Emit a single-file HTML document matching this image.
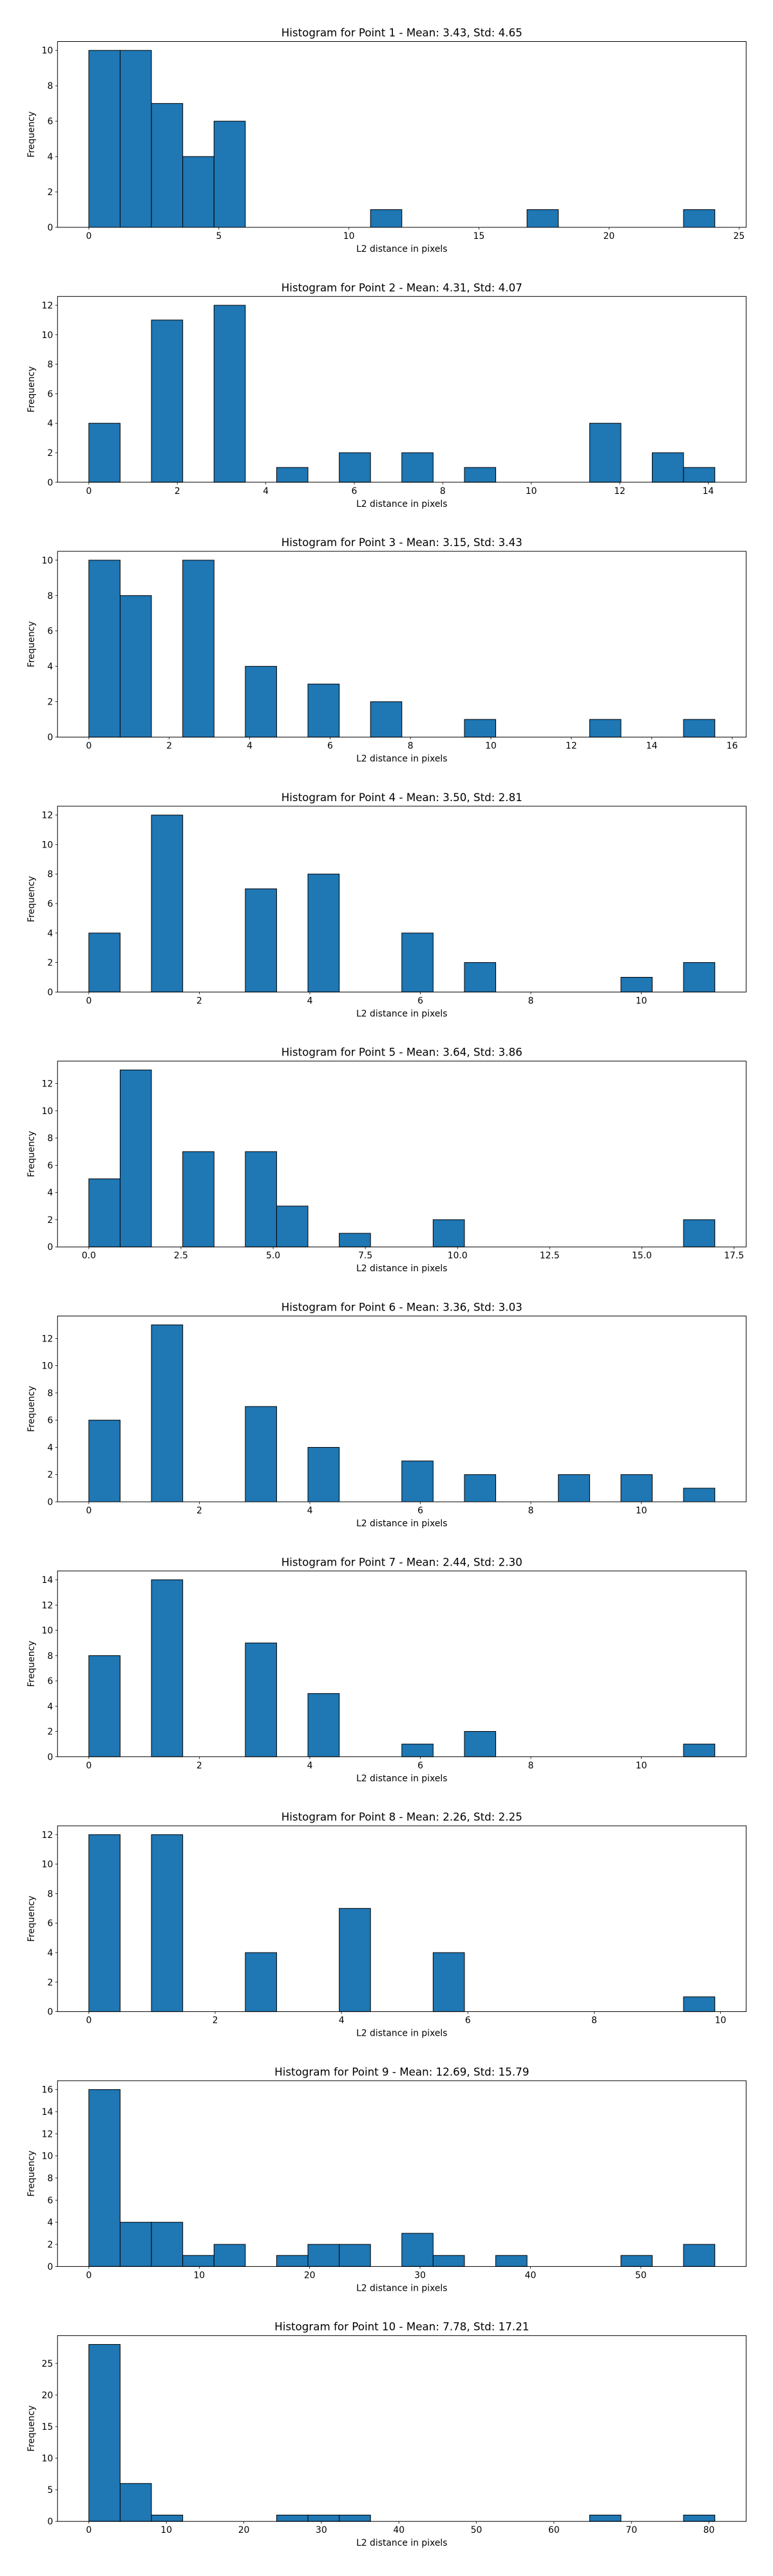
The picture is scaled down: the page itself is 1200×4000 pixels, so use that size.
<!DOCTYPE html>
<html><head><meta charset="utf-8"><style>
html,body{margin:0;padding:0;background:#fff;}
svg{display:block;}
text{font-family:"DejaVu Sans","Liberation Sans",sans-serif;fill:#000;}
</style></head>
<body>
<svg id="fig" width="1200" height="4000" viewBox="0 0 1200 4000" xmlns="http://www.w3.org/2000/svg"></svg>
<script>
const titles = ["Histogram for Point 1 - Mean: 3.43, Std: 4.65","Histogram for Point 2 - Mean: 4.31, Std: 4.07","Histogram for Point 3 - Mean: 3.15, Std: 3.43","Histogram for Point 4 - Mean: 3.50, Std: 2.81","Histogram for Point 5 - Mean: 3.64, Std: 3.86","Histogram for Point 6 - Mean: 3.36, Std: 3.03","Histogram for Point 7 - Mean: 2.44, Std: 2.30","Histogram for Point 8 - Mean: 2.26, Std: 2.25","Histogram for Point 9 - Mean: 12.69, Std: 15.79","Histogram for Point 10 - Mean: 7.78, Std: 17.21"];
const dataMin = [0,0,0,0,0,0,0,0,0,0];
const dataMax = [24.07,14.15,15.57,11.33,16.98,11.33,11.33,9.91,56.7,80.76];
const counts1 = [10,10,7,4,6,0,0,0,0,1,0,0,0,0,1,0,0,0,0,1];
const counts2 = [4,0,11,0,12,0,1,0,2,0,2,0,1,0,0,0,4,0,2,1];
const counts3 = [10,8,0,10,0,4,0,3,0,2,0,0,1,0,0,0,1,0,0,1];
const counts4 = [4,0,12,0,0,7,0,8,0,0,4,0,2,0,0,0,0,1,0,2];
const counts5 = [5,13,0,7,0,7,3,0,1,0,0,2,0,0,0,0,0,0,0,2];
const counts6 = [6,0,13,0,0,7,0,4,0,0,3,0,2,0,0,2,0,2,0,1];
const counts7 = [8,0,14,0,0,9,0,5,0,0,1,0,2,0,0,0,0,0,0,1];
const counts8 = [12,0,12,0,0,4,0,0,7,0,0,4,0,0,0,0,0,0,0,1];
const counts9 = [16,4,4,1,2,0,1,2,2,0,3,1,0,1,0,0,0,1,0,2];
const counts10 = [28,6,1,0,0,0,1,1,1,0,0,0,0,0,0,0,1,0,0,1];
const allCounts = [counts1,counts2,counts3,counts4,counts5,counts6,counts7,counts8,counts9,counts10];
const xTicks = [[0,5,10,15,20,25],[0,2,4,6,8,10,12,14],[0,2,4,6,8,10,12,14,16],[0,2,4,6,8,10],[0,2.5,5,7.5,10,12.5,15,17.5],[0,2,4,6,8,10],[0,2,4,6,8,10],[0,2,4,6,8,10],[0,10,20,30,40,50],[0,10,20,30,40,50,60,70,80]];
const xTickLabels = [["0","5","10","15","20","25"],["0","2","4","6","8","10","12","14"],["0","2","4","6","8","10","12","14","16"],["0","2","4","6","8","10"],["0.0","2.5","5.0","7.5","10.0","12.5","15.0","17.5"],["0","2","4","6","8","10"],["0","2","4","6","8","10"],["0","2","4","6","8","10"],["0","10","20","30","40","50"],["0","10","20","30","40","50","60","70","80"]];
const yTicks = [[0,2,4,6,8,10],[0,2,4,6,8,10,12],[0,2,4,6,8,10],[0,2,4,6,8,10,12],[0,2,4,6,8,10,12],[0,2,4,6,8,10,12],[0,2,4,6,8,10,12,14],[0,2,4,6,8,10,12],[0,2,4,6,8,10,12,14,16],[0,5,10,15,20,25]];

const NS = "http://www.w3.org/2000/svg";
const svg = document.getElementById('fig');
const L = 89.3, R = 1158.3, H = 288.5, TOP0 = 64.5, STEP = 395.8;
function mk(tag, attrs, parent){ const e=document.createElementNS(NS,tag); for(const k in attrs) e.setAttribute(k,attrs[k]); parent.appendChild(e); return e; }

allCounts.forEach((counts, p) => {
  const top = TOP0 + STEP*p, bot = top + H;
  const g = mk('g', {}, svg);
  
  
  const mn = dataMin[p], mx = dataMax[p], span = mx - mn;
  const x0 = mn - 0.05*span, x1 = mx + 0.05*span;
  const xs = v => L + (v - x0) / (x1 - x0) * (R - L);
  const ymax = Math.max(...counts) * 1.05;
  const ys = v => bot - v / ymax * H;
  const n = counts.length, bw = span / n;
  counts.forEach((c, i) => {
    const xa = xs(mn + i*bw), xb = xs(mn + (i+1)*bw);
    const r = mk('rect', {x: xa, y: ys(c), width: xb - xa, height: bot - ys(c), fill: '#1f77b4', stroke: '#000', 'stroke-width': 1}, g);
    
    
  });
  const frame = mk('rect', {x: L, y: top, width: R-L, height: H, fill: 'none', stroke: '#000', 'stroke-width': 1}, g);
  
  
  xTicks[p].forEach((t, i) => {
    const x = xs(t);
    mk('line', {x1: x, y1: bot, x2: x, y2: bot + 3.5, stroke: '#000', 'stroke-width': 0.8}, g);
    const tx = mk('text', {x: x, y: bot + 18, 'font-size': 13.9, 'text-anchor': 'middle'}, g);
    tx.textContent = xTickLabels[p][i];
    
    
  });
  yTicks[p].forEach(t => {
    const y = ys(t);
    mk('line', {x1: L - 3.5, y1: y, x2: L, y2: y, stroke: '#000', 'stroke-width': 0.8}, g);
    const ty = mk('text', {x: L - 7, y: y + 5, 'font-size': 13.9, 'text-anchor': 'end'}, g);
    ty.textContent = String(t);
    
    
  });
  const tt = mk('text', {x: (L+R)/2, y: top - 8, 'font-size': 16.7, 'text-anchor': 'middle'}, g);
  tt.textContent = titles[p];
  
  
  const xl = mk('text', {x: (L+R)/2, y: bot + 38, 'font-size': 13.9, 'text-anchor': 'middle'}, g);
  xl.textContent = 'L2 distance in pixels';
  
  
  const yc = top + H/2;
  const yl = mk('text', {x: 53, y: yc, 'font-size': 13.9, 'text-anchor': 'middle', transform: 'rotate(-90 53 ' + yc + ')'}, g);
  yl.textContent = 'Frequency';
  
  
});
</script>
</body></html>
